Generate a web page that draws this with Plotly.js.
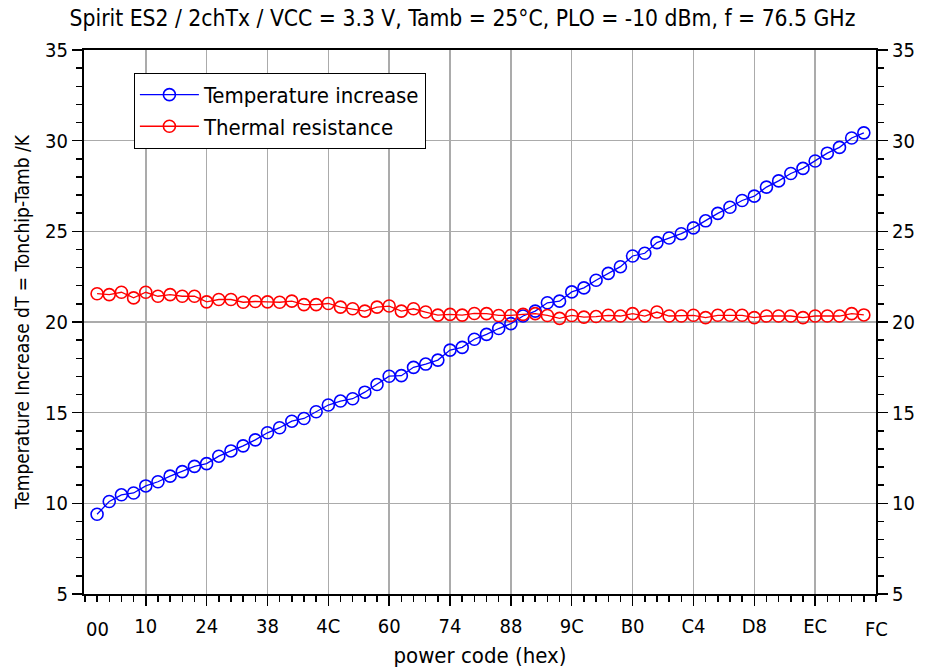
<!DOCTYPE html>
<html>
<head>
<meta charset="utf-8">
<script src="https://cdn.plot.ly/plotly-3.0.1.min.js"></script>
<style>html,body{margin:0;padding:0;background:#fff;}#chart{width:925px;height:671px;}</style>
</head>
<body>
<div id="chart"></div>
<script>
// power codes (decimal values of the hex codes 00 ... FC)
const powerCode = [0,4,8,12,16,20,24,28,32,36,40,44,48,52,56,60,64,68,72,76,80,84,88,92,96,100,104,108,112,116,120,124,128,132,136,140,144,148,152,156,160,164,168,172,176,180,184,188,192,196,200,204,208,212,216,220,224,228,232,236,240,244,248,252];

const tempIncrease = [9.4,10.1,10.47,10.57,10.96,11.19,11.5,11.75,12.04,12.19,12.6,12.89,13.17,13.5,13.89,14.17,14.53,14.68,15.05,15.42,15.64,15.77,16.13,16.55,17.01,17.04,17.5,17.68,17.9,18.45,18.6,19.05,19.32,19.64,19.91,20.33,20.6,21.06,21.15,21.66,21.88,22.3,22.68,23.05,23.64,23.79,24.38,24.63,24.87,25.19,25.58,25.99,26.33,26.7,26.94,27.44,27.78,28.19,28.47,28.88,29.31,29.63,30.15,30.43];

const thermalResistance = [21.56,21.51,21.64,21.33,21.64,21.42,21.51,21.42,21.42,21.11,21.24,21.24,21.09,21.13,21.11,21.09,21.15,20.96,20.96,21.02,20.82,20.73,20.6,20.82,20.88,20.6,20.73,20.55,20.38,20.42,20.38,20.47,20.46,20.36,20.36,20.42,20.46,20.36,20.2,20.36,20.27,20.3,20.37,20.33,20.46,20.33,20.55,20.33,20.33,20.37,20.24,20.37,20.37,20.37,20.24,20.33,20.33,20.33,20.24,20.33,20.33,20.33,20.46,20.39];

const xTickVals = [16,36,56,76,96,116,136,156,176,196,216,236];
const xTickText = ['10','24','38','4C','60','74','88','9C','B0','C4','D8','EC'];
const xEndVals = [0,256];
const xEndText = ['00','FC'];

const FONT = 'DejaVu Sans Condensed, DejaVu Sans, sans-serif';

const traces = [
  {x: powerCode, y: tempIncrease, name: 'Temperature increase', type: 'scatter', mode: 'lines+markers',
   line: {color: '#0000ff', width: 1.3}, marker: {symbol: 'circle-open', size: 12, color: '#0000ff', line: {width: 1.6, color: '#0000ff'}}},
  {x: powerCode, y: thermalResistance, name: 'Thermal resistance', type: 'scatter', mode: 'lines+markers',
   line: {color: '#ff0000', width: 1.3}, marker: {symbol: 'circle-open', size: 12, color: '#ff0000', line: {width: 1.6, color: '#ff0000'}}},
  {x: [null], y: [null], yaxis: 'y2', showlegend: false, hoverinfo: 'skip', mode: 'markers'}
];

const axisCommon = {
  showline: true, linecolor: '#000', linewidth: 2,
  ticks: 'outside', ticklen: 10, tickwidth: 1.5, tickcolor: '#000',
  tickfont: {family: FONT, size: 20, color: '#000'},
  zeroline: false
};

const annotations = xEndVals.map((v, i) => ({
  x: v, xref: 'x', y: 0, yref: 'paper', yanchor: 'top', yshift: -21,
  text: xEndText[i], showarrow: false, font: {family: FONT, size: 20, color: '#000'}
}));

const layout = {
  width: 925, height: 671,
  margin: {l: 84, r: 49, t: 50, b: 77},
  paper_bgcolor: '#fff', plot_bgcolor: '#fff',
  font: {family: FONT, color: '#000'},
  title: {text: 'Spirit ES2 / 2chTx / VCC = 3.3 V, Tamb = 25°C, PLO = -10 dBm, f = 76.5 GHz',
          font: {family: FONT, size: 22.7, color: '#000'}, x: 0.5, xanchor: 'center', y: 0.973, yanchor: 'middle'},
  xaxis: Object.assign({}, axisCommon, {
    range: [-4.3, 256], tickmode: 'array', tickvals: xTickVals, ticktext: xTickText,
    ticklabelstandoff: 3,
    showgrid: true, gridcolor: '#ababab', gridwidth: 1.5, mirror: true,
    minor: {tickmode: 'linear', tick0: 0, dtick: 4, ticks: 'outside', ticklen: 6, tickwidth: 1.5, tickcolor: '#000', showgrid: false},
    title: {text: 'power code (hex)', font: {family: FONT, size: 22, color: '#000'}, standoff: 11}
  }),
  yaxis: Object.assign({}, axisCommon, {
    range: [5, 35], tickmode: 'linear', tick0: 5, dtick: 5,
    showgrid: true, gridcolor: '#ababab', gridwidth: 1.5,
    minor: {tickmode: 'linear', tick0: 5, dtick: 1, ticks: 'outside', ticklen: 6, tickwidth: 1.5, tickcolor: '#000', showgrid: false},
    title: {text: 'Temperature Increase dT = Tonchip-Tamb /K', font: {family: FONT, size: 19, color: '#000'}, standoff: 10}
  }),
  yaxis2: Object.assign({}, axisCommon, {
    overlaying: 'y', side: 'right', range: [5, 35], tickmode: 'linear', tick0: 5, dtick: 5,
    showgrid: false,
    minor: {tickmode: 'linear', tick0: 5, dtick: 1, ticks: 'outside', ticklen: 6, tickwidth: 1.5, tickcolor: '#000', showgrid: false}
  }),
  legend: {x: 0.063, xanchor: 'left', y: 0.958, yanchor: 'top', bgcolor: '#fff', bordercolor: '#000', borderwidth: 1,
           font: {family: FONT, size: 22, color: '#000'}, itemwidth: 59},
  annotations: annotations,
  showlegend: true
};

Plotly.newPlot('chart', traces, layout, {displayModeBar: false, staticPlot: true});
</script>
</body>
</html>
